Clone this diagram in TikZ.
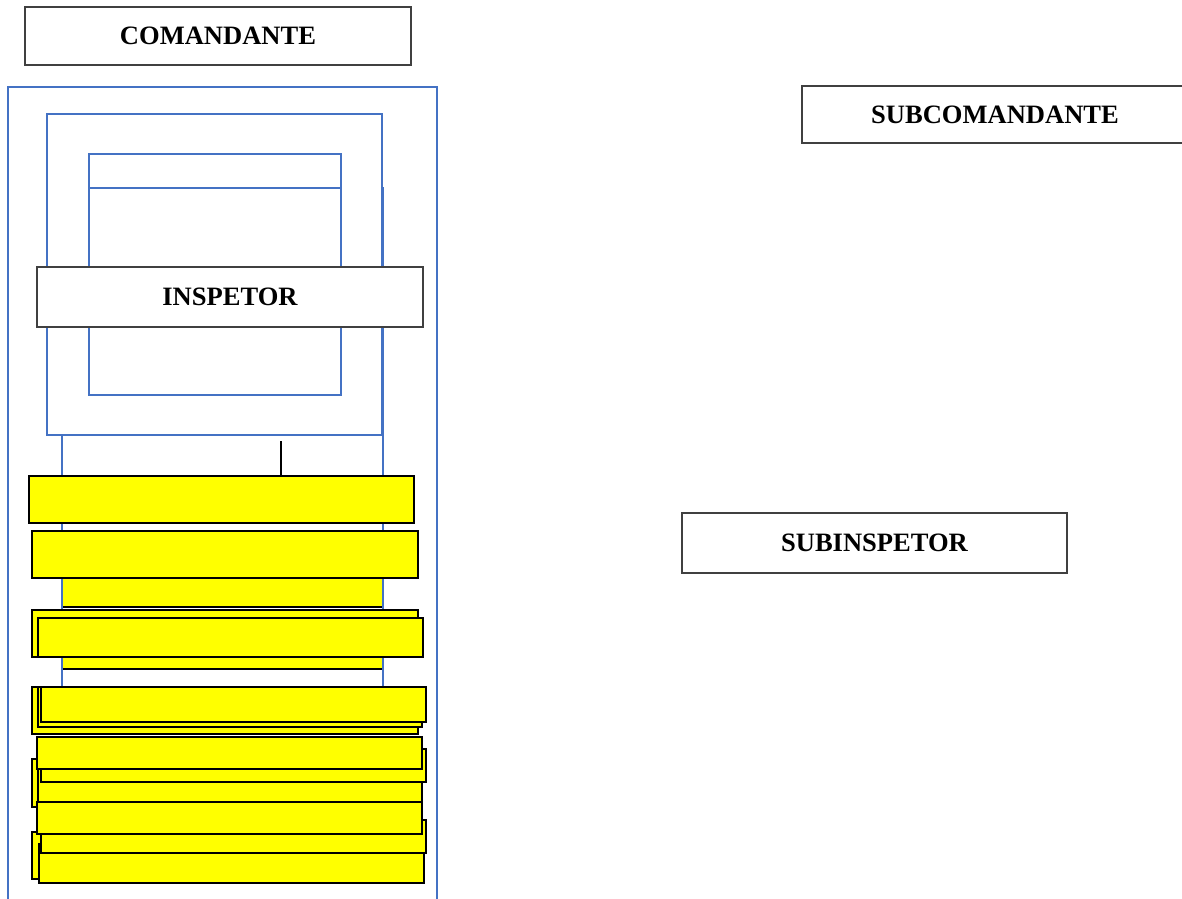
\documentclass[tikz,border=0pt]{standalone}
\usepackage{fontspec}
\setmainfont{Liberation Serif}
\definecolor{bluel}{HTML}{4472C4}
\definecolor{yel}{HTML}{FFFF00}
\definecolor{gbord}{HTML}{404040}
\tikzset{
  yboxst/.style={draw=black, fill=yel, line width=1.6pt, inner sep=0pt, outer sep=0pt},
  tboxst/.style={draw=gbord, fill=white, line width=0.8pt, inner sep=0pt, outer sep=0pt,
    font=\fontsize{19.9}{23}\selectfont\bfseries},
  bluest/.style={draw=bluel, line width=1.3pt},
  conn/.style={draw=black, line width=1.3pt}
}
\newcommand\bxnode[6]{%
  \node[#1, minimum width={(#4-#2)*0.75pt}, minimum height={(#5-#3)*0.75pt}]
    (#6) at ({(#2+#4)/2},{(#3+#5)/2}) {};}
\newcommand\txnode[7]{%
  \node[#1, minimum width={(#4-#2)*0.75pt}, minimum height={(#5-#3)*0.75pt}]
    (#6) at ({(#2+#4)/2},{(#3+#5)/2}) {#7};}
\begin{document}
\begin{tikzpicture}[x=0.75pt,y=-0.75pt]
\clip (0,0) rectangle (1182,899);
\fill[white] (0,0) rectangle (1182,899);
% titles
\txnode{tboxst}{25}{7}{411}{65}{com}{COMANDANTE}
\txnode{tboxst}{802}{86}{1188}{143}{subcom}{SUBCOMANDANTE}
\txnode{tboxst}{682}{513}{1067}{573}{subinsp}{SUBINSPETOR}
% outer blue frame
\draw[bluest] (8,920) -- (8,87) -- (437,87) -- (437,920);
% yellow bands behind
\bxnode{yboxst}{62}{555}{383}{607}{band1}
\bxnode{yboxst}{62}{615}{383}{669}{band2}
% blue rect behind
\draw[bluest] (62,188) rectangle (383,687);
% blue rect 2 (white filled)
\draw[bluest, fill=white] (47,114) rectangle (382,435);
% inner blue rect
\draw[bluest] (89,154) rectangle (341,395);
\draw[bluest] (89,188) -- (341,188);
% inspetor
\txnode{tboxst}{37}{267}{423}{327}{insp}{INSPETOR}
% yellow boxes
\bxnode{yboxst}{29}{476}{414}{523}{y1}
\bxnode{yboxst}{32}{531}{418}{578}{y2}
\bxnode{yboxst}{32}{610}{418}{657}{ya}
\bxnode{yboxst}{38}{618}{423}{657}{yb}
\bxnode{yboxst}{32}{687}{418}{734}{yc}
\bxnode{yboxst}{38}{687}{422}{727}{yd}
\bxnode{yboxst}{41}{687}{426}{722}{ye}
\bxnode{yboxst}{32}{759}{418}{807}{yh}
\bxnode{yboxst}{38}{756}{422}{802}{yi}
\bxnode{yboxst}{41}{749}{426}{782}{yg}
\bxnode{yboxst}{37}{737}{422}{769}{yf}
\bxnode{yboxst}{32}{832}{418}{879}{yl}
\bxnode{yboxst}{39}{844}{424}{883}{ym}
\bxnode{yboxst}{41}{820}{426}{853}{yk}
\bxnode{yboxst}{37}{802}{422}{834}{yj}
% connector
\coordinate (cTop) at (281,441);
\draw[conn] (cTop) -- (cTop |- y1.north);
\end{tikzpicture}
\end{document}
